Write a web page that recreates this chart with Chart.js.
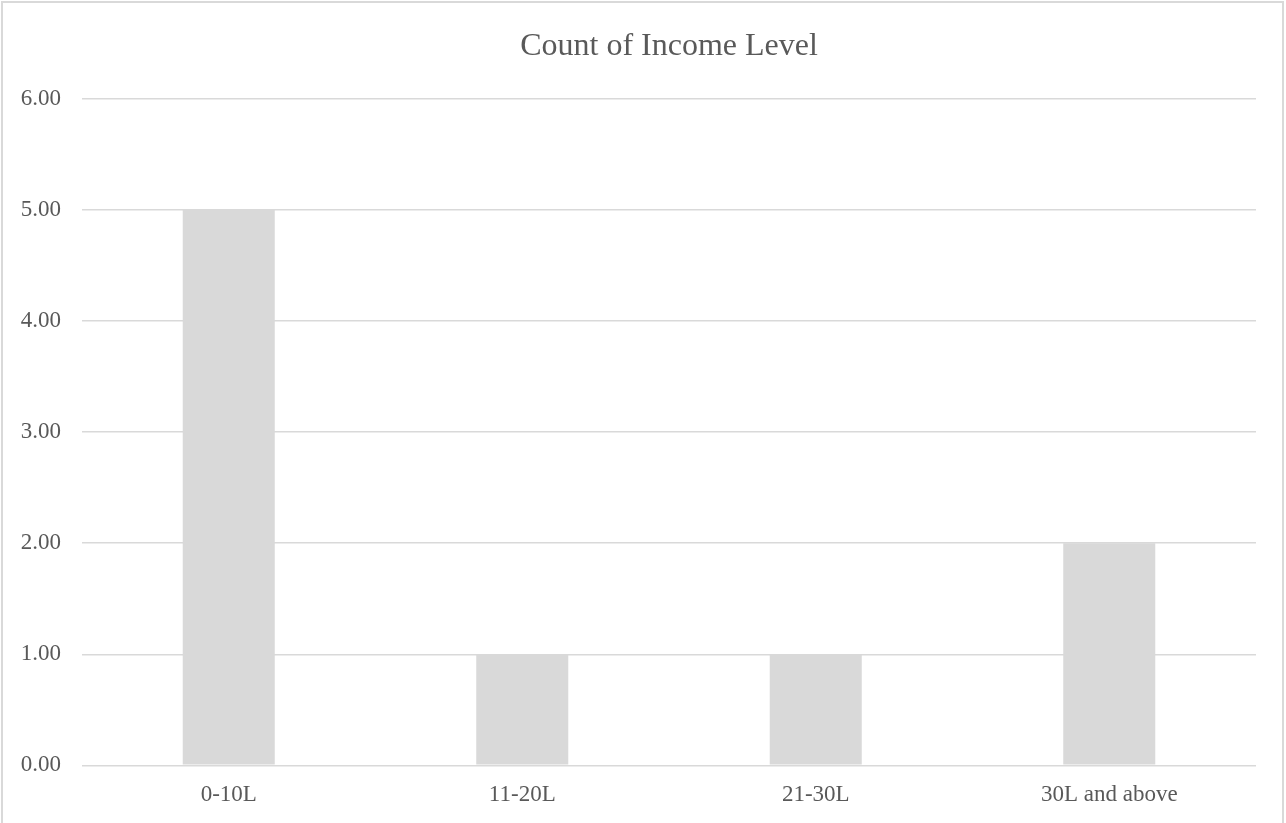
<!DOCTYPE html>
<html>
<head>
<meta charset="utf-8">
<title>Count of Income Level</title>
<script src="https://cdn.jsdelivr.net/npm/chart.js@4/dist/chart.umd.min.js"></script>
<style>
  html, body { margin: 0; padding: 0; background: #ffffff; overflow: hidden; }
  #wrap { position: relative; width: 1286px; height: 823px; }
  #frame {
    position: absolute; left: 1px; top: 1px; width: 1283px; height: 840px;
    box-sizing: border-box; border: 2px solid #d9d9d9; pointer-events: none;
  }
  canvas { position: absolute; left: 0; top: 0; }
</style>
</head>
<body>
<div id="wrap">
  <canvas id="chart" width="1286" height="823"></canvas>
  <div id="frame"></div>
</div>
<script>
// Income brackets and how many respondents fall in each
const categories = ['0-10L', '11-20L', '21-30L', '30L and above'];
const counts = [5, 1, 1, 2];
const yTicks = [0, 1, 2, 3, 4, 5, 6];

const textColor = '#595959';
const lineColor = '#d9d9d9';
const serif = "'Liberation Serif', 'Times New Roman', serif";

new Chart(document.getElementById('chart'), {
  type: 'bar',
  data: {
    labels: categories,
    datasets: [{
      label: 'Count of Income Level',
      data: counts,
      backgroundColor: '#d9d9d9',
      borderWidth: 0,
      categoryPercentage: 1,
      barPercentage: 0.3135
    }]
  },
  options: {
    responsive: false,
    animation: false,
    devicePixelRatio: 1,
    layout: { padding: { left: 0, right: 30, top: 0, bottom: 0 } },
    plugins: {
      legend: { display: false },
      tooltip: { enabled: false },
      title: {
        display: true,
        fullSize: false,
        text: 'Count of Income Level',
        color: textColor,
        font: { family: serif, size: 32, weight: 'normal', lineHeight: 1.2 },
        padding: { top: 27, bottom: 33.6 }
      }
    },
    scales: {
      x: {
        grid: { display: false, drawTicks: false },
        border: { display: false },
        ticks: {
          color: textColor,
          font: { family: serif, size: 23 },
          padding: 16,
          maxRotation: 0
        },
        afterFit: (scale) => { scale.height = 57.7; }
      },
      y: {
        min: 0,
        max: yTicks[yTicks.length - 1],
        afterBuildTicks: (scale) => { scale.ticks = yTicks.map(v => ({ value: v })); },
        grid: { color: lineColor, lineWidth: 1.5, drawTicks: false },
        border: { display: false },
        ticks: {
          color: textColor,
          font: { family: serif, size: 23 },
          padding: 21,
          callback: (v) => Number(v).toFixed(2)
        },
        afterFit: (scale) => { scale.width = 82; }
      }
    }
  }
});
</script>
</body>
</html>
